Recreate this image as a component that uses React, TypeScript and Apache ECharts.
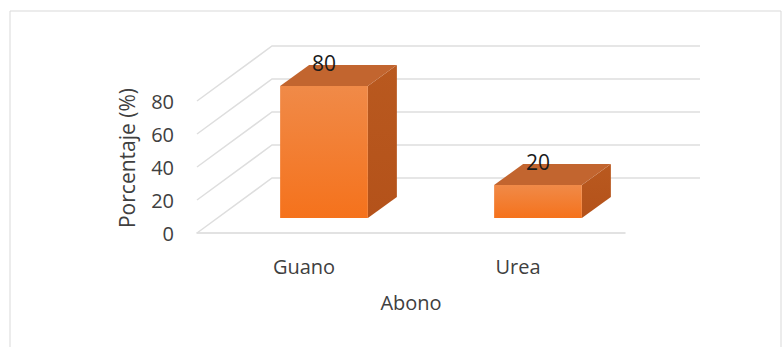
import React, { useEffect, useRef } from "react";
import * as echarts from "echarts";

const categories = ["Guano", "Urea"];
const values = [80, 20];
const yTicks = [0, 20, 40, 60, 80];

const FONT = "'Open Sans', 'Noto Sans', sans-serif";
// oblique depth vectors (pixels)
const DEPTH = [75, -55];
const BAR_FRONT = [20, -15];
const BAR_BACK = [49, -36];

export default function App() {
  const ref = useRef<HTMLDivElement>(null);
  useEffect(() => {
    const chart = echarts.init(ref.current!, null, { renderer: "svg" });
    const option: any = {
      animation: false,
      backgroundColor: "#ffffff",
      grid: { left: 197, top: 101, width: 428, height: 132, containLabel: false },
      xAxis: {
        type: "category",
        data: categories,
        axisLine: { show: true, lineStyle: { color: "#d9d9d9", width: 1.5 } },
        axisTick: { show: false },
        axisLabel: { margin: 23, fontSize: 20, color: "#404040", fontFamily: FONT },
        name: "Abono",
        nameLocation: "middle",
        nameGap: 59,
        nameTextStyle: { fontSize: 20, color: "#404040", fontFamily: FONT },
        splitLine: { show: false },
      },
      yAxis: {
        type: "value",
        min: 0,
        max: 80,
        interval: 20,
        axisLine: { show: false },
        axisTick: { show: false },
        splitLine: { show: false },
        axisLabel: { margin: 23, fontSize: 20, color: "#404040", fontFamily: FONT },
      },
      graphic: [
        {
          type: "rect",
          shape: { x: 10, y: 11, width: 771, height: 345 },
          style: { fill: "none", stroke: "#d9d9d9", lineWidth: 1 },
          silent: true,
        },
        {
          type: "text",
          x: 127,
          y: 158,
          rotation: Math.PI / 2,
          style: {
            text: "Porcentaje (%)",
            fontSize: 21,
            fill: "#404040",
            fontFamily: FONT,
            align: "center",
            verticalAlign: "middle",
          },
        },
      ],
      series: [
        {
          type: "custom",
          z: 1,
          clip: false,
          silent: true,
          data: yTicks.map((v) => [0, v]),
          renderItem: (params: any, api: any) => {
            const cs = params.coordSys;
            const y = api.coord([0, api.value(1)])[1];
            const x0 = cs.x;
            const x1 = cs.x + cs.width;
            return {
              type: "polyline",
              shape: {
                points: [
                  [x0, y],
                  [x0 + DEPTH[0], y + DEPTH[1]],
                  [x1 + DEPTH[0], y + DEPTH[1]],
                ],
              },
              style: { stroke: "#dedede", lineWidth: 1.5, fill: "none" },
            };
          },
        },
        {
          type: "custom",
          z: 5,
          clip: false,
          data: values.map((v, i) => [i, v]),
          renderItem: (params: any, api: any) => {
            const top = api.coord([api.value(0), api.value(1)]);
            const base = api.coord([api.value(0), 0]);
            const band = api.size([1, 0])[0];
            const w = band * 0.41;
            const fx0 = top[0] - w / 2 + BAR_FRONT[0];
            const fx1 = top[0] + w / 2 + BAR_FRONT[0];
            const fyT = top[1] + BAR_FRONT[1];
            const fyB = base[1] + BAR_FRONT[1];
            const ddx = BAR_BACK[0] - BAR_FRONT[0];
            const ddy = BAR_BACK[1] - BAR_FRONT[1];
            return {
              type: "group",
              children: [
                {
                  type: "polygon",
                  shape: {
                    points: [
                      [fx1, fyT],
                      [fx1 + ddx, fyT + ddy],
                      [fx1 + ddx, fyB + ddy],
                      [fx1, fyB],
                    ],
                  },
                  style: {
                    fill: new echarts.graphic.LinearGradient(0, 0, 0, 1, [
                      { offset: 0, color: "#b9591f" },
                      { offset: 1, color: "#b4521a" },
                    ]),
                  },
                },
                {
                  type: "polygon",
                  shape: {
                    points: [
                      [fx0, fyT],
                      [fx0 + ddx, fyT + ddy],
                      [fx1 + ddx, fyT + ddy],
                      [fx1, fyT],
                    ],
                  },
                  style: { fill: "#c2652f" },
                },
                {
                  type: "rect",
                  shape: { x: fx0, y: fyT, width: fx1 - fx0, height: fyB - fyT },
                  style: {
                    fill: new echarts.graphic.LinearGradient(0, 0, 0, 1, [
                      { offset: 0, color: "#f08a48" },
                      { offset: 1, color: "#f5721c" },
                    ]),
                  },
                },
                {
                  type: "text",
                  x: (fx0 + fx1) / 2,
                  y: fyT - 23,
                  style: {
                    text: String(api.value(1)),
                    fontSize: 21,
                    fill: "#1a1a1a",
                    fontFamily: FONT,
                    align: "center",
                    verticalAlign: "middle",
                  },
                },
              ],
            };
          },
        },
      ],
    };
    chart.setOption(option);
    return () => chart.dispose();
  }, []);
  return (
    <div
      ref={ref}
      style={{ position: "fixed", left: 0, top: 0, width: 782, height: 347 }}
    />
  );
}
